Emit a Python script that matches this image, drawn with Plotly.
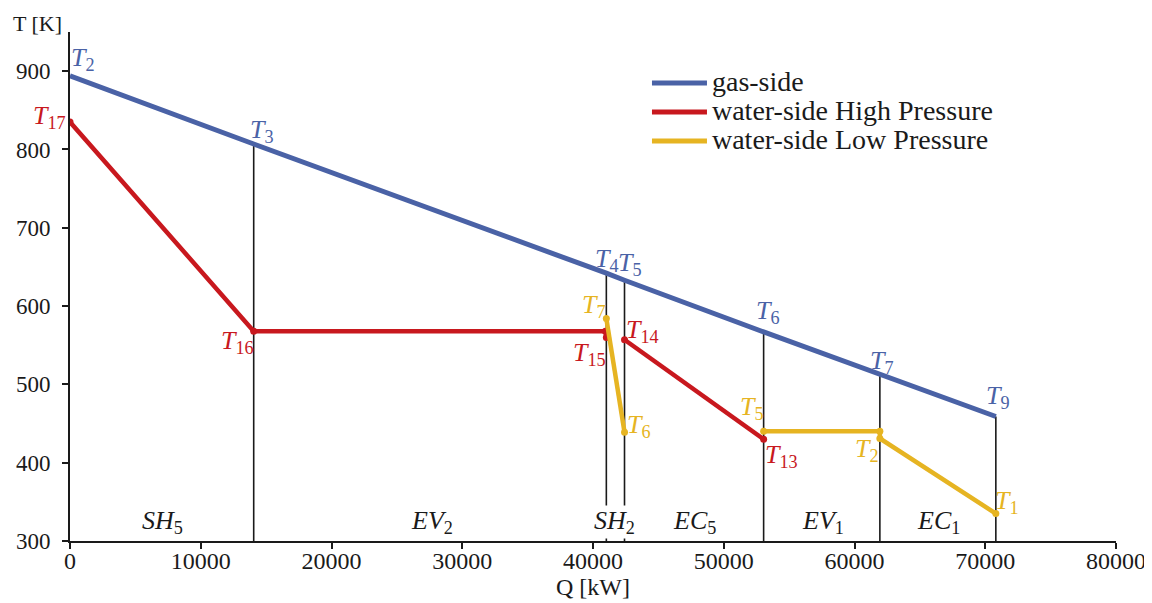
import plotly.graph_objects as go

# ---- data ----
gas_Q = [0, 14050, 41020, 42410, 53050, 61940, 70810]
gas_T = [894, 807, 642, 633, 567, 513, 459]
gas_lbl = ["2", "3", "4", "5", "6", "7", "9"]

hp_Q = [0, 14050, 40950, 41020, None, 42410, 53050]
hp_T = [835, 568, 568, 560, None, 557, 430]

lp_Q = [41020, 42410, None, 53050, 61940, 61940, 70810]
lp_T = [584, 439, None, 440, 440, 431, 335]

bound_Q = [14050, 41020, 42410, 53050, 61940, 70810]
bound_T = [807, 642, 633, 567, 513, 459]

regions = ["SH", "EV", "SH", "EC", "EV", "EC"]
region_sub = ["5", "2", "2", "5", "1", "1"]
region_Q = [7050, 27650, 41680, 47800, 57600, 66400]

x_ticks = [0, 10000, 20000, 30000, 40000, 50000, 60000, 70000, 80000]
y_ticks = [300, 400, 500, 600, 700, 800, 900]

# point-label positions (Q, T, subscript)
gas_lbl_Q = [960, 14650, 41070, 42830, 53420, 62100, 70980]
gas_lbl_T = [915, 824, 659, 654, 592, 528, 484]
hp_lbl = [(0, 842, "17"), (12810, 554, "16"), (39770, 539, "15"),
          (43750, 568, "14"), (54380, 408, "13")]
lp_lbl = [(40080, 600, "7"), (43520, 447, "6"), (52160, 470, "5"),
          (60960, 416, "2"), (71660, 350, "1")]

BLUE = "#4a62a6"
RED = "#c8181e"
YEL = "#e6b422"
INK = "#1a1a1a"
FONT = "Liberation Serif"

fig = go.Figure()

# boundary verticals
vx, vy = [], []
for q, t in zip(bound_Q, bound_T):
    vx += [q, q, None]
    vy += [300, t, None]
fig.add_trace(go.Scatter(x=vx, y=vy, mode="lines", line=dict(color=INK, width=1.6),
                         showlegend=False, hoverinfo="skip"))

fig.add_trace(go.Scatter(x=gas_Q, y=gas_T, mode="lines", name="gas-side",
                         line=dict(color=BLUE, width=5), showlegend=False))
fig.add_trace(go.Scatter(x=hp_Q, y=hp_T, mode="lines+markers", name="water-side High Pressure",
                         line=dict(color=RED, width=4.5), marker=dict(size=7, color=RED),
                         showlegend=False))
fig.add_trace(go.Scatter(x=lp_Q, y=lp_T, mode="lines+markers", name="water-side Low Pressure",
                         line=dict(color=YEL, width=4.5), marker=dict(size=7, color=YEL),
                         showlegend=False))
# legend entries (line only, as in the reference)
for nm, col in [("gas-side", BLUE), ("water-side High Pressure", RED), ("water-side Low Pressure", YEL)]:
    fig.add_trace(go.Scatter(x=[None], y=[None], mode="lines",
                             name=f'<span style="font-size:28px">{nm}</span>',
                             line=dict(color=col, width=5)))

ann = []
def tlabel(q, t, s, col, **kw):
    d = dict(x=q, y=t, text=f"<i>T</i><sub>{s}</sub>", font=dict(color=col, size=26, family=FONT))
    d.update(kw)
    ann.append(d)

for q, t, s in zip(gas_lbl_Q, gas_lbl_T, gas_lbl):
    tlabel(q, t, s, BLUE)
for q, t, s in hp_lbl:
    if s == "17":
        tlabel(q, t, s, RED, xshift=-21)
    else:
        tlabel(q, t, s, RED)
for q, t, s in lp_lbl:
    tlabel(q, t, s, YEL)
for q, r, s in zip(region_Q, regions, region_sub):
    ann.append(dict(x=q, y=324, text=f"<i>{r}</i><sub>{s}</sub>", font=dict(color=INK, size=26, family=FONT),
                    bgcolor="white" if r == "SH" and s == "2" else None, borderpad=0))
for a in ann:
    a.update(xref="x", yref="y", showarrow=False)
ann.append(dict(x=-0.031, y=1.0, xref="paper", yref="paper", yanchor="middle", xanchor="center",
                text="T [K]", showarrow=False, yshift=9,
                font=dict(color=INK, size=22, family=FONT)))

fig.update_layout(
    width=1152, height=603,
    paper_bgcolor="white", plot_bgcolor="white",
    margin=dict(l=62, r=44, t=24, b=70, autoexpand=False),
    font=dict(family=FONT, color=INK, size=24),
    annotations=ann,
    legend=dict(x=0.5516, y=0.938, xanchor="left", yanchor="top", font=dict(size=20, family=FONT),
                bgcolor="rgba(0,0,0,0)", tracegroupgap=0, itemwidth=55),
    xaxis=dict(range=[0, 80000], tickvals=x_ticks, ticktext=[str(v) for v in x_ticks],
               automargin=False,
               showgrid=False, zeroline=False, showline=True, linecolor=INK, linewidth=1.6,
               ticks="outside", ticklen=6, tickcolor=INK, tickwidth=1.6,
               ticklabelstandoff=-9,
               title=dict(text="Q [kW]", font=dict(size=24), standoff=0),
               tickfont=dict(size=24)),
    yaxis=dict(range=[300, 950], tickvals=y_ticks, showgrid=False, zeroline=False,
               automargin=False,
               showline=True, linecolor=INK, linewidth=1.6,
               ticks="outside", ticklen=6, tickcolor=INK, tickwidth=1.6,
               ticklabelstandoff=7,
               tickfont=dict(size=23)),
)

fig.write_html("out.html")
